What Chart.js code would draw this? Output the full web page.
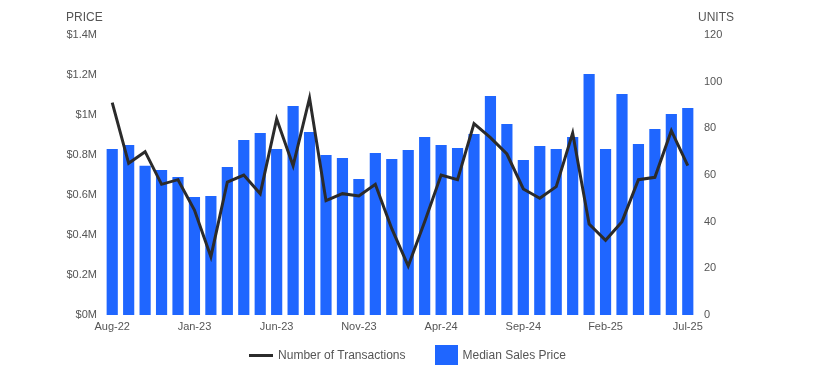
<!DOCTYPE html>
<html>
<head>
<meta charset="utf-8">
<script src="https://cdn.jsdelivr.net/npm/chart.js@4.4.1/dist/chart.umd.min.js"></script>
<style>
  html, body { margin: 0; padding: 0; background: #fff; }
  #wrap { width: 815px; height: 378px; position: relative; }
  #legend {
    position: absolute; left: 0; top: 345px; width: 815px; height: 20px;
    display: flex; justify-content: center; align-items: center;
    font: 12px 'Liberation Sans', Arial, sans-serif; color: #555555;
  }
  #legend .item { display: flex; align-items: center; }
  #legend .item + .item { margin-left: 29px; }
  #legend .swatch { margin-right: 5px; }
</style>
</head>
<body>
<div id="wrap">
  <canvas id="plot" width="815" height="378"></canvas>
  <div id="legend"></div>
</div>
<script>
const months = [
  "Aug-22", "Sep-22", "Oct-22", "Nov-22", "Dec-22", "Jan-23", "Feb-23", "Mar-23", "Apr-23",
  "May-23", "Jun-23", "Jul-23", "Aug-23", "Sep-23", "Oct-23", "Nov-23", "Dec-23", "Jan-24",
  "Feb-24", "Mar-24", "Apr-24", "May-24", "Jun-24", "Jul-24", "Aug-24", "Sep-24", "Oct-24",
  "Nov-24", "Dec-24", "Jan-25", "Feb-25", "Mar-25", "Apr-25", "May-25", "Jun-25", "Jul-25",
];

// median sales price, $
const medianPrice = [
  830000, 850000, 746000, 725000, 690000, 590000, 595000, 740000, 875000,
  910000, 830000, 1045000, 915000, 800000, 785000, 680000, 810000, 780000,
  825000, 890000, 850000, 835000, 905000, 1095000, 955000, 775000, 845000,
  830000, 890000, 1205000, 830000, 1105000, 855000, 930000, 1005000, 1035000,
];

// number of transactions, units
const transactions = [
  91, 65, 70, 56, 58, 45, 25, 57, 60,
  52, 84, 64, 93, 49, 52, 51, 56, 37,
  21, 40, 60, 58, 82, 76, 69, 54, 50,
  55, 78, 39, 32, 40, 58, 59, 79, 64,
];

const FONT = "'Liberation Sans', Arial, sans-serif";
const TEXT = "#555555";
const BAR_BLUE = "#1f66ff";
const LINE_DARK = "#2b2b2b";

const axisTitles = {
  id: "axis_titles",
  afterDraw: (chart) => {
    const ctx = chart.ctx;
    ctx.save();
    ctx.font = "12px " + FONT;
    ctx.fillStyle = TEXT;
    ctx.textBaseline = "middle";
    ctx.textAlign = "left";
    ctx.fillText("PRICE", 66, 18);
    ctx.fillText("UNITS", 698, 18);
    ctx.restore();
  },
};

const canvas = document.getElementById("plot");
const chart = new Chart(canvas.getContext("2d"), {
  type: "bar",
  plugins: [axisTitles],
  data: {
    labels: months,
    datasets: [
      {
        type: "line",
        label: "Number of Transactions",
        data: transactions,
        yAxisID: "units",
        borderColor: LINE_DARK,
        backgroundColor: LINE_DARK,
        borderWidth: 3,
        pointRadius: 0,
        tension: 0,
        order: 0,
      },
      {
        type: "bar",
        label: "Median Sales Price",
        data: medianPrice,
        yAxisID: "price",
        backgroundColor: BAR_BLUE,
        barPercentage: 0.68,
        categoryPercentage: 1,
        order: 1,
      },
    ],
  },
  options: {
    responsive: false,
    animation: false,
    devicePixelRatio: 1,
    layout: { padding: { top: 35, left: 0, right: 0, bottom: 43 } },
    plugins: {
      tooltip: { enabled: false },
      legend: { display: false },
    },
    scales: {
      x: {
        offset: true,
        grid: { display: false, drawTicks: false },
        border: { display: false },
        ticks: {
          autoSkip: false,
          maxRotation: 0,
          padding: 5,
          color: TEXT,
          font: { family: FONT, size: 11 },
          callback: function (v, i) {
            return i % 5 === 0 ? months[i] : "";
          },
        },
        afterFit: (s) => { s.height = 20; },
      },
      price: {
        position: "left",
        min: 0,
        max: 1400000,
        grid: { display: false, drawTicks: false },
        border: { display: false },
        ticks: {
          stepSize: 200000,
          padding: 7,
          color: TEXT,
          font: { family: FONT, size: 11 },
          callback: (v) => "$" + +(v / 1e6).toFixed(1) + "M",
        },
        afterFit: (s) => { s.width = 104; },
      },
      units: {
        position: "right",
        min: 0,
        max: 120,
        grid: { display: false, drawTicks: false },
        border: { display: false },
        ticks: {
          stepSize: 20,
          padding: 8,
          color: TEXT,
          font: { family: FONT, size: 11 },
        },
        afterFit: (s) => { s.width = 119; },
      },
    },
  },
});

// legend built from the datasets
const legend = document.getElementById("legend");
chart.data.datasets.forEach((ds) => {
  const item = document.createElement("div");
  item.className = "item";
  const sw = document.createElement("span");
  sw.className = "swatch";
  sw.style.display = "inline-block";
  sw.style.background = ds.type === "line" ? ds.borderColor : ds.backgroundColor;
  sw.style.width = ds.type === "line" ? "24px" : "23px";
  sw.style.height = ds.type === "line" ? "3px" : "20px";
  const txt = document.createElement("span");
  txt.textContent = ds.label;
  item.appendChild(sw);
  item.appendChild(txt);
  legend.appendChild(item);
});
</script>
</body>
</html>
